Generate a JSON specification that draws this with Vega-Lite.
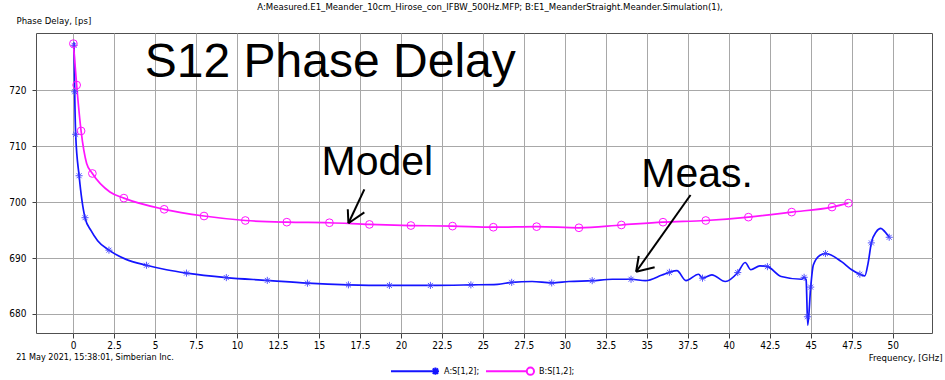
{
  "$schema": "https://vega.github.io/schema/vega-lite/v6.json",
  "width": 896,
  "height": 300,
  "autosize": {"type": "none"},
  "padding": {"left": 36, "top": 33, "right": 13, "bottom": 47},
  "background": "white",
  "title": {
    "text": "A:Measured.E1_Meander_10cm_Hirose_con_IFBW_500Hz.MFP; B:E1_MeanderStraight.Meander.Simulation(1),",
    "font": "Liberation Sans Narrow, DejaVu Sans Condensed, Liberation Sans, sans-serif",
    "fontSize": 9.5,
    "fontWeight": "normal",
    "color": "#000000",
    "anchor": "middle",
    "baseline": "alphabetic",
    "offset": 3,
    "dy": 7,
    "dx": 6
  },
  "datasets": {
    "lines": [
      {"series": "A:S[1,2];", "f": 0.06, "v": 728.5},
      {"series": "A:S[1,2];", "f": 0.1, "v": 719.7},
      {"series": "A:S[1,2];", "f": 0.16, "v": 712.1},
      {"series": "A:S[1,2];", "f": 0.37, "v": 704.7},
      {"series": "A:S[1,2];", "f": 0.73, "v": 697.2},
      {"series": "A:S[1,2];", "f": 1.1, "v": 694.9},
      {"series": "A:S[1,2];", "f": 1.5, "v": 693.1},
      {"series": "A:S[1,2];", "f": 2.19, "v": 691.4},
      {"series": "A:S[1,2];", "f": 3.2, "v": 689.8},
      {"series": "A:S[1,2];", "f": 4.48, "v": 688.7},
      {"series": "A:S[1,2];", "f": 5.7, "v": 687.9},
      {"series": "A:S[1,2];", "f": 6.92, "v": 687.3},
      {"series": "A:S[1,2];", "f": 9.35, "v": 686.5},
      {"series": "A:S[1,2];", "f": 11.85, "v": 686.0},
      {"series": "A:S[1,2];", "f": 14.3, "v": 685.5},
      {"series": "A:S[1,2];", "f": 16.8, "v": 685.2},
      {"series": "A:S[1,2];", "f": 19.3, "v": 685.1},
      {"series": "A:S[1,2];", "f": 21.8, "v": 685.1},
      {"series": "A:S[1,2];", "f": 24.27, "v": 685.2},
      {"series": "A:S[1,2];", "f": 25.9, "v": 685.3},
      {"series": "A:S[1,2];", "f": 26.76, "v": 685.65},
      {"series": "A:S[1,2];", "f": 28.0, "v": 685.8},
      {"series": "A:S[1,2];", "f": 29.2, "v": 685.55},
      {"series": "A:S[1,2];", "f": 30.25, "v": 685.8},
      {"series": "A:S[1,2];", "f": 31.67, "v": 685.95},
      {"series": "A:S[1,2];", "f": 32.9, "v": 686.2},
      {"series": "A:S[1,2];", "f": 34.04, "v": 686.2},
      {"series": "A:S[1,2];", "f": 34.92, "v": 685.95},
      {"series": "A:S[1,2];", "f": 35.93, "v": 686.96},
      {"series": "A:S[1,2];", "f": 36.38, "v": 687.45},
      {"series": "A:S[1,2];", "f": 36.84, "v": 687.75},
      {"series": "A:S[1,2];", "f": 37.39, "v": 685.95},
      {"series": "A:S[1,2];", "f": 38.16, "v": 687.1},
      {"series": "A:S[1,2];", "f": 38.4, "v": 686.4},
      {"series": "A:S[1,2];", "f": 38.97, "v": 687.0},
      {"series": "A:S[1,2];", "f": 39.79, "v": 685.8},
      {"series": "A:S[1,2];", "f": 40.55, "v": 687.4},
      {"series": "A:S[1,2];", "f": 41.0, "v": 689.2},
      {"series": "A:S[1,2];", "f": 41.35, "v": 687.9},
      {"series": "A:S[1,2];", "f": 41.9, "v": 688.6},
      {"series": "A:S[1,2];", "f": 42.36, "v": 688.45},
      {"series": "A:S[1,2];", "f": 43.2, "v": 686.7},
      {"series": "A:S[1,2];", "f": 44.45, "v": 686.2},
      {"series": "A:S[1,2];", "f": 44.6, "v": 686.55},
      {"series": "A:S[1,2];", "f": 44.72, "v": 686.1},
      {"series": "A:S[1,2];", "f": 44.82, "v": 678.0},
      {"series": "A:S[1,2];", "f": 45.0, "v": 684.8},
      {"series": "A:S[1,2];", "f": 45.16, "v": 688.75},
      {"series": "A:S[1,2];", "f": 45.57, "v": 690.5},
      {"series": "A:S[1,2];", "f": 45.9, "v": 690.8},
      {"series": "A:S[1,2];", "f": 46.88, "v": 689.35},
      {"series": "A:S[1,2];", "f": 47.5, "v": 687.9},
      {"series": "A:S[1,2];", "f": 48.0, "v": 687.1},
      {"series": "A:S[1,2];", "f": 48.3, "v": 686.8},
      {"series": "A:S[1,2];", "f": 48.5, "v": 689.05},
      {"series": "A:S[1,2];", "f": 48.7, "v": 692.7},
      {"series": "A:S[1,2];", "f": 49.0, "v": 694.7},
      {"series": "A:S[1,2];", "f": 49.28, "v": 695.3},
      {"series": "A:S[1,2];", "f": 49.52, "v": 694.7},
      {"series": "A:S[1,2];", "f": 49.79, "v": 693.7},
      {"series": "B:S[1,2];", "f": 0.02, "v": 728.3},
      {"series": "B:S[1,2];", "f": 0.22, "v": 720.9},
      {"series": "B:S[1,2];", "f": 0.49, "v": 712.7},
      {"series": "B:S[1,2];", "f": 0.83, "v": 706.9},
      {"series": "B:S[1,2];", "f": 1.18, "v": 705.1},
      {"series": "B:S[1,2];", "f": 2.25, "v": 701.8},
      {"series": "B:S[1,2];", "f": 3.1, "v": 700.7},
      {"series": "B:S[1,2];", "f": 5.56, "v": 698.7},
      {"series": "B:S[1,2];", "f": 7.99, "v": 697.5},
      {"series": "B:S[1,2];", "f": 10.51, "v": 696.7},
      {"series": "B:S[1,2];", "f": 13.04, "v": 696.4},
      {"series": "B:S[1,2];", "f": 15.64, "v": 696.3},
      {"series": "B:S[1,2];", "f": 18.08, "v": 696.0},
      {"series": "B:S[1,2];", "f": 20.61, "v": 695.8},
      {"series": "B:S[1,2];", "f": 23.15, "v": 695.7},
      {"series": "B:S[1,2];", "f": 25.64, "v": 695.5},
      {"series": "B:S[1,2];", "f": 28.28, "v": 695.6},
      {"series": "B:S[1,2];", "f": 30.86, "v": 695.4},
      {"series": "B:S[1,2];", "f": 33.45, "v": 695.9},
      {"series": "B:S[1,2];", "f": 35.99, "v": 696.4},
      {"series": "B:S[1,2];", "f": 38.6, "v": 696.7},
      {"series": "B:S[1,2];", "f": 41.2, "v": 697.3},
      {"series": "B:S[1,2];", "f": 43.84, "v": 698.2},
      {"series": "B:S[1,2];", "f": 46.3, "v": 699.1},
      {"series": "B:S[1,2];", "f": 47.3, "v": 699.8}
    ],
    "markers": [
      {"series": "A:S[1,2];", "f": 0.06, "v": 728.0},
      {"series": "A:S[1,2];", "f": 0.1, "v": 719.7},
      {"series": "A:S[1,2];", "f": 0.16, "v": 712.1},
      {"series": "A:S[1,2];", "f": 0.37, "v": 704.7},
      {"series": "A:S[1,2];", "f": 0.73, "v": 697.2},
      {"series": "A:S[1,2];", "f": 2.19, "v": 691.4},
      {"series": "A:S[1,2];", "f": 4.48, "v": 688.7},
      {"series": "A:S[1,2];", "f": 6.92, "v": 687.3},
      {"series": "A:S[1,2];", "f": 9.35, "v": 686.5},
      {"series": "A:S[1,2];", "f": 11.85, "v": 686.0},
      {"series": "A:S[1,2];", "f": 14.3, "v": 685.5},
      {"series": "A:S[1,2];", "f": 16.8, "v": 685.2},
      {"series": "A:S[1,2];", "f": 19.3, "v": 685.1},
      {"series": "A:S[1,2];", "f": 21.8, "v": 685.1},
      {"series": "A:S[1,2];", "f": 24.27, "v": 685.2},
      {"series": "A:S[1,2];", "f": 26.76, "v": 685.65},
      {"series": "A:S[1,2];", "f": 29.2, "v": 685.55},
      {"series": "A:S[1,2];", "f": 31.67, "v": 685.95},
      {"series": "A:S[1,2];", "f": 34.04, "v": 686.2},
      {"series": "A:S[1,2];", "f": 36.38, "v": 687.45},
      {"series": "A:S[1,2];", "f": 38.4, "v": 686.4},
      {"series": "A:S[1,2];", "f": 40.55, "v": 687.4},
      {"series": "A:S[1,2];", "f": 42.36, "v": 688.45},
      {"series": "A:S[1,2];", "f": 44.6, "v": 686.55},
      {"series": "A:S[1,2];", "f": 44.8, "v": 679.5},
      {"series": "A:S[1,2];", "f": 45.0, "v": 684.8},
      {"series": "A:S[1,2];", "f": 45.9, "v": 690.8},
      {"series": "A:S[1,2];", "f": 48.0, "v": 687.1},
      {"series": "A:S[1,2];", "f": 48.7, "v": 692.7},
      {"series": "A:S[1,2];", "f": 49.79, "v": 693.7},
      {"series": "B:S[1,2];", "f": 0.02, "v": 728.3},
      {"series": "B:S[1,2];", "f": 0.22, "v": 720.9},
      {"series": "B:S[1,2];", "f": 0.49, "v": 712.7},
      {"series": "B:S[1,2];", "f": 1.18, "v": 705.1},
      {"series": "B:S[1,2];", "f": 3.1, "v": 700.7},
      {"series": "B:S[1,2];", "f": 5.56, "v": 698.7},
      {"series": "B:S[1,2];", "f": 7.99, "v": 697.5},
      {"series": "B:S[1,2];", "f": 10.51, "v": 696.7},
      {"series": "B:S[1,2];", "f": 13.04, "v": 696.4},
      {"series": "B:S[1,2];", "f": 15.64, "v": 696.3},
      {"series": "B:S[1,2];", "f": 18.08, "v": 696.0},
      {"series": "B:S[1,2];", "f": 20.61, "v": 695.8},
      {"series": "B:S[1,2];", "f": 23.15, "v": 695.7},
      {"series": "B:S[1,2];", "f": 25.64, "v": 695.5},
      {"series": "B:S[1,2];", "f": 28.28, "v": 695.6},
      {"series": "B:S[1,2];", "f": 30.86, "v": 695.4},
      {"series": "B:S[1,2];", "f": 33.45, "v": 695.9},
      {"series": "B:S[1,2];", "f": 35.99, "v": 696.4},
      {"series": "B:S[1,2];", "f": 38.6, "v": 696.7},
      {"series": "B:S[1,2];", "f": 41.2, "v": 697.3},
      {"series": "B:S[1,2];", "f": 43.84, "v": 698.2},
      {"series": "B:S[1,2];", "f": 46.3, "v": 699.1},
      {"series": "B:S[1,2];", "f": 47.3, "v": 699.8}
    ],
    "arrows": [
      {"f": 17.77, "v": 702.27, "f2": 16.8, "v2": 696.2},
      {"f": 16.76, "v": 698.7, "f2": 16.8, "v2": 696.2},
      {"f": 17.77, "v": 698.16, "f2": 16.8, "v2": 696.2},
      {"f": 37.67, "v": 701.25, "f2": 34.35, "v2": 687.55},
      {"f": 34.51, "v": 690.36, "f2": 34.35, "v2": 687.55},
      {"f": 35.48, "v": 688.34, "f2": 34.35, "v2": 687.55}
    ],
    "bigtext": [
      {"f": 4.38, "v": 722.3, "label": "S12 Phase Delay"}
    ],
    "midtext": [
      {"f": 15.16, "v": 704.8, "label": "Model"},
      {"f": 34.67, "v": 702.73, "label": "Meas."}
    ],
    "smalltext": [
      {"f": -3.47, "v": 671.8, "label": "21 May 2021, 15:38:01, Simberian Inc."}
    ]
  },
  "encoding": {
    "x": {
      "field": "f",
      "type": "quantitative",
      "scale": {"domain": [-2.26, 52.4], "nice": false, "zero": false},
      "axis": {
        "values": [0, 2.5, 5, 7.5, 10, 12.5, 15, 17.5, 20, 22.5, 25, 27.5, 30, 32.5, 35, 37.5, 40, 42.5, 45, 47.5, 50],
        "labelExpr": "'' + datum.value",
        "title": "Frequency, [GHz]",
        "titleX": 906,
        "titleY": 27,
        "titleAlign": "right",
        "titleBaseline": "alphabetic",
        "titleAnchor": null,
        "tickSize": 5,
        "labelPadding": 2
      }
    },
    "y": {
      "field": "v",
      "type": "quantitative",
      "scale": {"domain": [676.6, 730.2], "nice": false, "zero": false},
      "axis": {
        "values": [680, 690, 700, 710, 720],
        "title": "Phase Delay, [ps]",
        "titleAngle": 0,
        "titleX": -20,
        "titleY": -10,
        "titleAlign": "left",
        "titleBaseline": "alphabetic",
        "tickSize": 4,
        "labelPadding": 6
      }
    }
  },
  "layer": [
    {
      "data": {"name": "lines"},
      "mark": {"type": "line", "strokeWidth": 1.7, "interpolate": "monotone"},
      "encoding": {
        "color": {
          "field": "series",
          "type": "nominal",
          "scale": {"domain": ["A:S[1,2];", "B:S[1,2];"], "range": ["#1414ff", "#ff14ff"]},
          "legend": {
            "orient": "none",
            "legendX": 354,
            "legendY": 313,
            "direction": "horizontal",
            "title": null,
            "padding": 0,
            "symbolSize": 2304,
            "symbolStrokeWidth": 2,
            "labelFont": "Liberation Sans Narrow, DejaVu Sans Condensed, Liberation Sans, sans-serif",
            "labelFontSize": 9,
            "labelColor": "#000000",
            "labelOffset": 4,
            "columnPadding": 2,
            "encode": {
              "symbols": {
                "update": {
                  "shape": {"signal": "datum.value == 'A:S[1,2];' ? 'M-1,0H0.85M0.85,-0.15V0.15M0.7,0H1M0.74,-0.11L0.96,0.11M0.74,0.11L0.96,-0.11' : 'M-1,0H0.7M0.7,0A0.15,0.15 0 1,1 1,0A0.15,0.15 0 1,1 0.7,0'"},
                  "fill": {"value": "transparent"}
                }
              }
            }
          }
        },
        "order": {"field": "f", "type": "quantitative"}
      }
    },
    {
      "data": {"name": "markers"},
      "transform": [{"filter": "datum.series == 'A:S[1,2];'"}],
      "mark": {
        "type": "point",
        "shape": "M-1,0H1M0,-1V1M-0.7,-0.7L0.7,0.7M-0.7,0.7L0.7,-0.7",
        "filled": false,
        "size": 50,
        "strokeWidth": 1,
        "color": "#3a3aff",
        "opacity": 0.85
      }
    },
    {
      "data": {"name": "markers"},
      "transform": [{"filter": "datum.series == 'B:S[1,2];'"}],
      "mark": {
        "type": "point",
        "shape": "circle",
        "filled": false,
        "size": 60,
        "strokeWidth": 1,
        "color": "#ff14ff",
        "opacity": 1
      }
    },
    {
      "data": {"name": "arrows"},
      "mark": {"type": "rule", "color": "#000000", "strokeWidth": 2},
      "encoding": {
        "x2": {"field": "f2"},
        "y2": {"field": "v2"}
      }
    },
    {
      "data": {"name": "bigtext"},
      "mark": {"type": "text", "font": "Liberation Sans", "fontSize": 48, "align": "left", "baseline": "alphabetic", "color": "#000000"},
      "encoding": {"text": {"field": "label"}}
    },
    {
      "data": {"name": "midtext"},
      "mark": {"type": "text", "font": "Liberation Sans", "fontSize": 41, "align": "left", "baseline": "alphabetic", "color": "#000000"},
      "encoding": {"text": {"field": "label"}}
    },
    {
      "data": {"name": "smalltext"},
      "mark": {"type": "text", "font": "Liberation Sans Narrow, DejaVu Sans Condensed, Liberation Sans, sans-serif", "fontSize": 9, "align": "left", "baseline": "alphabetic", "color": "#000000"},
      "encoding": {"text": {"field": "label"}}
    }
  ],
  "config": {
    "view": {"stroke": "#505050", "strokeWidth": 1},
    "axis": {
      "labelFont": "Liberation Sans Narrow, DejaVu Sans Condensed, Liberation Sans, sans-serif",
      "labelFontSize": 10,
      "labelColor": "#000000",
      "titleFont": "Liberation Sans Narrow, DejaVu Sans Condensed, Liberation Sans, sans-serif",
      "titleFontSize": 9.5,
      "titleFontWeight": "normal",
      "titleColor": "#000000",
      "gridColor": "#a8a8a8",
      "gridOpacity": 1,
      "gridWidth": 1,
      "tickColor": "#404040",
      "domain": false
    }
  }
}
